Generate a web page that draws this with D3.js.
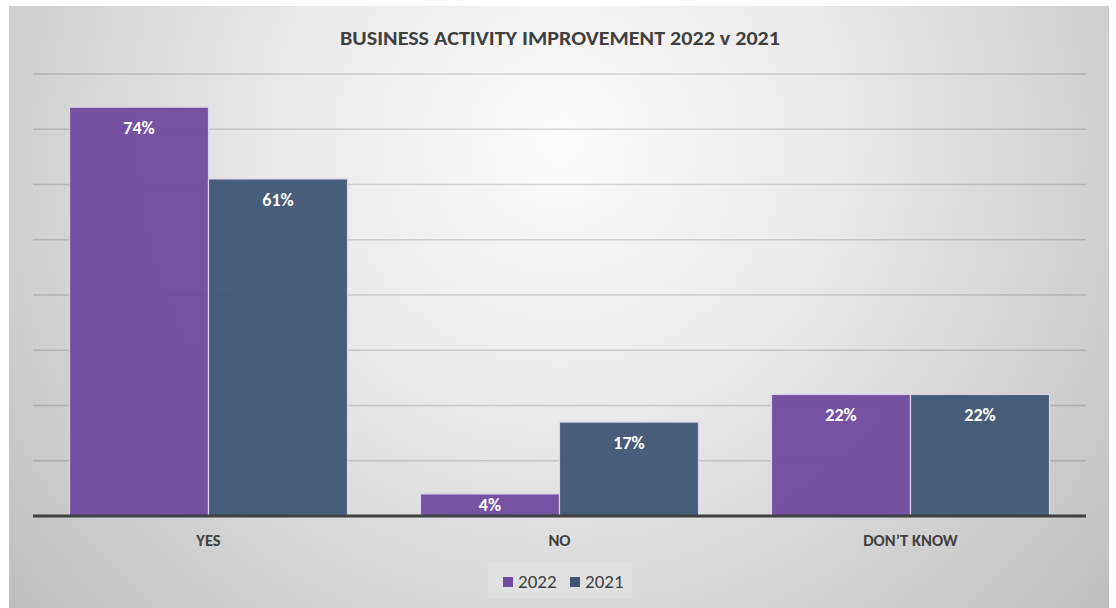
<!DOCTYPE html>
<html>
<head>
<meta charset="utf-8">
<script src="https://cdn.jsdelivr.net/npm/d3@7"></script>
<style>
  html, body { margin: 0; padding: 0; background: #ffffff; }
  svg { display: block; }
  text { font-family: Carlito, Lato, "Open Sans", sans-serif; }
</style>
</head>
<body>
<svg id="chart" width="1116" height="608"></svg>
<script>
// Survey answers and their shares (%)
const categories = ["YES", "NO", "DON\u2019T KNOW"];
const years = ["2022", "2021"];
const values2022 = [74, 4, 22];
const values2021 = [61, 17, 22];
const gridTicks = [10, 20, 30, 40, 50, 60, 70, 80];
const titleText = "BUSINESS ACTIVITY IMPROVEMENT 2022 v 2021";

const rows = categories.map((c, i) => ({
  category: c,
  bars: [
    { year: years[0], value: values2022[i] },
    { year: years[1], value: values2021[i] }
  ]
}));

const frame = { x: 9, y: 6, w: 1100, h: 602 };
const plot = { left: 33, right: 1086, top: 74, bottom: 516 };

const svg = d3.select("#chart");
const defs = svg.append("defs");

// soft radial backdrop: bright toward the top centre, grey at the edges
const bg = defs.append("radialGradient")
  .attr("id", "bgGrad")
  .attr("gradientUnits", "userSpaceOnUse")
  .attr("cx", 560).attr("cy", 140).attr("r", 740)
  .attr("fx", 560).attr("fy", 140);
bg.append("stop").attr("offset", "0%").attr("stop-color", "#fcfcfc");
bg.append("stop").attr("offset", "40%").attr("stop-color", "#e8e8e8");
bg.append("stop").attr("offset", "100%").attr("stop-color", "#bdbdbd");

svg.append("rect")
  .attr("x", frame.x).attr("y", frame.y)
  .attr("width", frame.w).attr("height", frame.h)
  .attr("fill", "url(#bgGrad)");

const color = d3.scaleOrdinal().domain(years).range(["#6f4a9e", "#3e5573"]);

const y = d3.scaleLinear().domain([0, 80]).range([plot.bottom, plot.top]);
const x0 = d3.scaleBand().domain(categories)
  .range([plot.left, plot.right])
  .paddingInner(0.208).paddingOuter(0.104);
const x1 = d3.scaleBand().domain(years).range([0, x0.bandwidth()]);

// horizontal gridlines
svg.append("g").attr("class", "grid")
  .selectAll("line").data(gridTicks).join("line")
  .attr("x1", plot.left).attr("x2", plot.right)
  .attr("y1", d => y(d)).attr("y2", d => y(d))
  .attr("stroke", "#000000").attr("stroke-opacity", 0.14)
  .attr("stroke-width", 1.6);

// grouped bars
const groups = svg.append("g").attr("class", "bars")
  .selectAll("g").data(rows).join("g")
  .attr("transform", d => `translate(${x0(d.category)},0)`);

groups.selectAll("rect").data(d => d.bars).join("rect")
  .attr("x", d => x1(d.year))
  .attr("y", d => y(d.value))
  .attr("width", x1.bandwidth())
  .attr("height", d => y(0) - y(d.value))
  .attr("fill", d => color(d.year))
  .attr("fill-opacity", 0.95)
  .attr("stroke", "#ddd3ec")
  .attr("stroke-width", 1.2);

// value labels inside the top of each bar
groups.selectAll("text").data(d => d.bars).join("text")
  .attr("x", d => x1(d.year) + x1.bandwidth() / 2)
  .attr("y", d => Math.min(y(d.value) + 27, (y(d.value) + y(0)) / 2 + 6.5))
  .attr("text-anchor", "middle")
  .attr("fill", "#ffffff")
  .attr("font-weight", "bold")
  .attr("font-size", 18)
  .text(d => d.value + "%");

// baseline
svg.append("line")
  .attr("x1", plot.left).attr("x2", plot.right)
  .attr("y1", y(0)).attr("y2", y(0))
  .attr("stroke", "#404040").attr("stroke-width", 3);

// category labels
svg.append("g").selectAll("text").data(categories).join("text")
  .attr("x", d => x0(d) + x0.bandwidth() / 2)
  .attr("y", 546)
  .attr("text-anchor", "middle")
  .attr("fill", "#404040")
  .attr("font-weight", "bold")
  .attr("font-size", 16.5)
  .text(d => d);

// title
svg.append("text")
  .attr("x", 560).attr("y", 44.5)
  .attr("text-anchor", "middle")
  .attr("fill", "#404040")
  .attr("font-weight", 600)
  .attr("font-size", 21)
  .attr("textLength", 440)
  .attr("lengthAdjust", "spacingAndGlyphs")
  .text(titleText);

// legend
const legend = svg.append("g").attr("class", "legend");
legend.append("rect")
  .attr("x", 488).attr("y", 563).attr("width", 144).attr("height", 35)
  .attr("fill", "#ffffff").attr("fill-opacity", 0.18);
const legendX = d3.scalePoint().domain(years).range([503, 570]);
const items = legend.selectAll("g.item").data(years).join("g")
  .attr("class", "item")
  .attr("transform", d => `translate(${legendX(d)},0)`);
items.append("rect")
  .attr("x", 0).attr("y", 577).attr("width", 10).attr("height", 10)
  .attr("fill", d => color(d));
items.append("text")
  .attr("x", 15).attr("y", 587.5)
  .attr("fill", "#404040")
  .attr("font-size", 19)
  .text(d => d);
</script>
</body>
</html>
